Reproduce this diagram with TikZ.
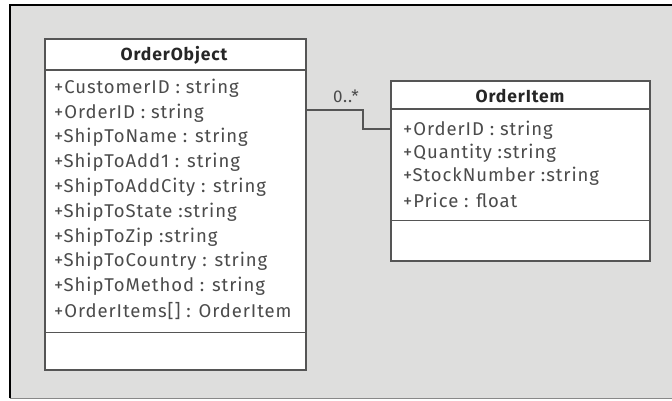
\documentclass[tikz,border=0pt]{standalone}
\usepackage{fontspec}
\setmainfont{Fira Sans}[LetterSpace=5]
\usetikzlibrary{positioning}
\definecolor{panelgray}{RGB}{222,222,221}
\definecolor{edgegray}{RGB}{85,85,85}
\definecolor{attrgray}{RGB}{75,75,75}
\tikzset{
  clsbox/.style={draw=edgegray, fill=white, line width=1.6pt, inner sep=0pt, anchor=north west},
  clssep/.style={edgegray, line width=1.6pt},
  clstitle/.style={font=\fontsize{17.5}{19}\selectfont\bfseries, text=black!85},
  attr/.style={font=\fontsize{18.5}{20}\selectfont, text=attrgray, anchor=west, inner sep=0pt},
  assoc/.style={edgegray, line width=1.6pt},
  mult/.style={font=\fontsize{17}{19}\selectfont, text=attrgray},
}

\begin{document}
\begin{tikzpicture}[x=1pt, y=-1pt]
    \useasboundingbox (0,0) rectangle (672,400);
    % panel
    \fill[panelgray] (10,5) rectangle (680,398);
    \draw[edgegray!70, line width=1pt] (10,398) -- (672,398);
    \draw[black, line width=2pt] (10,398) -- (10,5) -- (672,5);
    % class boxes
    \node[clsbox, minimum width=261pt, minimum height=331pt] (obj) at (44,38) {};
    \node[clsbox, minimum width=259pt, minimum height=180pt] (item) at (390,80) {};
    \draw[clssep] ([yshift=-32pt]obj.north west) -- ([yshift=-32pt]obj.north east);
    \draw[clssep] ([yshift=38pt]obj.south west) -- ([yshift=38pt]obj.south east);
    \draw[clssep] ([yshift=-29pt]item.north west) -- ([yshift=-29pt]item.north east);
    \draw[clssep] ([yshift=41pt]item.south west) -- ([yshift=41pt]item.south east);
    \node[clstitle] (objname) at (174,55) {OrderObject};
    \node[clstitle] (itemname) at (520,96) {OrderItem};
    % attributes
    \foreach \txt [count=\i from 0] in {+CustomerID : string, +OrderID : string,
        +ShipToName : string, +ShipToAdd1 : string, +ShipToAddCity : string,
        +ShipToState :string, +ShipToZip :string, +ShipToCountry : string,
        +ShipToMethod : string, +OrderItems[] : OrderItem}
      \node[attr] (objattr\i) at (54,88+24.8*\i) {\txt};
    \foreach \txt [count=\i from 0] in {+OrderID : string, +Quantity :string,
        +StockNumber :string, +Price : float}
      \node[attr] (itemattr\i) at (403,130+23.3*\i) {\txt};
    % association
    \coordinate (bendA) at (363,110);
    \coordinate (bendB) at (363,129);
    \draw[assoc] (obj.east |- bendA) -- (bendA) -- (bendB) -- (item.west |- bendB);
    \node[mult] (multlbl) at (346,96) {0..*};
  \end{tikzpicture}
\end{document}
